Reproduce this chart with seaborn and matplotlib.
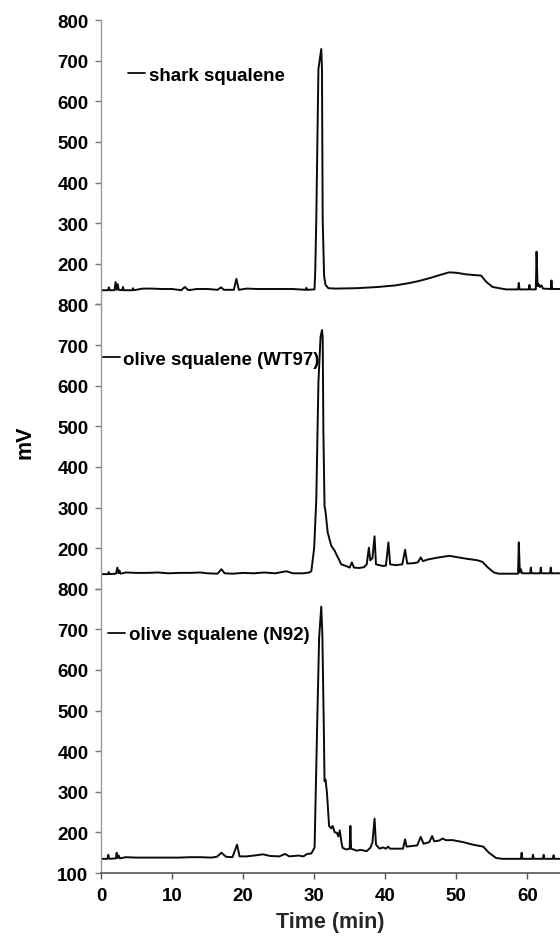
import numpy as np
import pandas as pd
import matplotlib
matplotlib.use("Agg")
import matplotlib.pyplot as plt
import seaborn as sns

# chromatogram traces (time in min, signal in mV)
shark_t = [0, 1.0, 1.1, 1.2, 1.9, 2.05, 2.2, 2.35, 2.5, 3.0, 3.1, 3.2, 4.4, 4.5, 4.6,
           5.9, 7.2, 8.5, 10.0, 11.3, 11.8, 12.3, 13.5, 15.0, 16.4, 16.9, 17.3,
           18.7, 19.05, 19.4, 20.5, 22.0, 25.0, 27.0, 28.8, 28.9, 29.0, 30.05,
           30.15, 30.3, 30.6, 31.0, 31.1, 31.2, 31.4, 31.6, 32.0, 33.0, 36.0,
           39.0, 41.5, 43.5, 44.8, 46.5, 47.6, 49.0, 50.0, 51.4, 53.5, 54.2,
           55.1, 57.0, 58.7, 58.8, 58.9, 60.2, 60.3, 60.4, 61.2, 61.3, 61.45,
           61.6, 61.75, 62.0, 62.2, 63.3, 63.4, 63.5, 64.6]
shark_mv = [135, 135, 142, 135, 135, 155, 136, 150, 136, 135, 143, 135, 135, 140, 135,
            139, 139, 138, 138, 135, 143, 135, 138, 138, 136, 142, 136,
            136, 163, 136, 139, 138, 138, 138, 136, 141, 136, 137,
            180, 310, 680, 729, 680, 310, 170, 148, 140, 139, 140,
            143, 147, 153, 158, 166, 172, 179, 178, 174, 171, 156,
            143, 137, 137, 153, 137, 137, 148, 137, 137, 230, 145,
            150, 143, 147, 139, 138, 159, 138, 138]

wt97_t = [0, 1.0, 1.1, 1.2, 2.1, 2.3, 2.45, 2.6, 2.75, 3.5, 5.0, 6.5, 8.0, 9.5, 11.0,
          12.5, 14.0, 15.0, 16.4, 16.95, 17.4, 18.5, 20.0, 21.5, 23.0, 24.5, 26.1,
          27.0, 28.5, 29.3, 29.6, 30.0, 30.3, 30.6, 30.9, 31.1, 31.2, 31.3, 31.46,
          31.6, 31.9, 32.4, 32.9, 33.3, 33.5, 33.8, 34.5, 35.0, 35.3, 35.6, 36.3,
          37.0, 37.4, 37.7, 37.9, 38.2, 38.5, 38.7, 39.2, 39.7, 40.1, 40.45, 40.7,
          41.5, 42.4, 42.8, 43.1, 44.0, 44.6, 45.0, 45.3, 46.0, 46.9, 47.5, 49.0,
          51.4, 53.0, 53.7, 54.4, 55.3, 56.0, 58.7, 58.8, 58.95, 59.1, 59.25,
          60.4, 60.5, 60.6, 61.8, 61.9, 62.0, 63.2, 63.3, 63.4, 64.6]
wt97_mv = [136, 136, 141, 136, 137, 152, 138, 145, 137, 140, 139, 139, 140, 138, 139,
           139, 140, 138, 137, 148, 138, 137, 139, 138, 140, 138, 143,
           138, 138, 140, 143, 200, 320, 608, 720, 737, 720, 485, 304,
           290, 239, 206, 193, 178, 172, 160, 156, 152, 165, 152, 151,
           153, 160, 201, 170, 175, 229, 160, 158, 156, 157, 214, 160,
           158, 160, 196, 162, 163, 165, 177, 168, 172, 175, 177, 181,
           174, 170, 166, 153, 140, 137, 137, 214, 140, 148, 138,
           138, 152, 138, 138, 152, 138, 138, 152, 138, 138]

n92_t = [0, 0.9, 1.03, 1.15, 2.1, 2.2, 2.35, 2.5, 2.65, 3.5, 5.0, 6.5, 8.0, 9.5, 11.0,
         12.5, 14.0, 15.5, 16.3, 16.95, 17.6, 18.5, 19.15, 19.5, 20.5, 21.5, 22.8,
         23.8, 25.1, 25.9, 26.5, 27.8, 28.5, 29.0, 29.6, 30.06, 30.4, 30.7, 31.0,
         31.15, 31.37, 31.46, 31.6, 31.8, 32.1, 32.4, 32.6, 32.9, 33.2, 33.4, 33.6,
         33.8, 34.0, 34.5, 35.0, 35.1, 35.2, 36.0, 36.5, 37.4, 37.9, 38.2, 38.5,
         38.7, 39.2, 39.7, 40.1, 40.4, 40.7, 42.5, 42.8, 43.0, 44.5, 45.0, 45.4,
         46.2, 46.6, 46.9, 47.6, 48.1, 48.5, 49.5, 51.0, 52.3, 53.8, 54.6, 55.6,
         56.5, 59.1, 59.2, 59.3, 60.7, 60.8, 60.9, 62.2, 62.3, 62.4, 63.6, 63.7,
         63.8, 64.6]
n92_mv = [135, 135, 145, 135, 136, 150, 137, 143, 136, 139, 138, 138, 138, 138, 138,
          139, 139, 138, 140, 150, 140, 139, 170, 141, 141, 143, 146,
          142, 141, 147, 141, 143, 141, 147, 148, 163, 445, 680, 756,
          690, 445, 326, 330, 298, 216, 210, 216, 200, 199, 190, 205,
          180, 162, 158, 160, 216, 160, 155, 157, 154, 162, 175, 234,
          170, 160, 163, 160, 165, 160, 160, 183, 165, 168, 189, 172,
          176, 191, 178, 180, 185, 181, 181, 176, 170, 165, 150, 137,
          135, 135, 150, 135, 135, 145, 135, 135, 145, 135, 135, 144,
          135, 135]

labels = ["shark squalene", "olive squalene (WT97)", "olive squalene (N92)"]
x_ticks = [0, 10, 20, 30, 40, 50, 60]
y_ticks = [100, 200, 300, 400, 500, 600, 700, 800]

sns.set_theme(style="ticks")
plt.rcParams['font.family'] = ['Liberation Sans', 'DejaVu Sans']
plt.rcParams['font.weight'] = 'bold'
plt.rcParams['text.color'] = 'black'
plt.rcParams['xtick.labelcolor'] = 'black'
plt.rcParams['ytick.labelcolor'] = 'black'

fig = plt.figure(figsize=(5.6, 9.37), dpi=100)
left, width = 101 / 560, 459 / 560
h = 284.3 / 937
bottoms = [0.0672 + 2 * h, 0.0672 + h, 0.0672]
traces = [(shark_t, shark_mv), (wt97_t, wt97_mv), (n92_t, n92_mv)]
leg_pos = [(0.059, 0.807), (0.004, 0.807), (0.015, 0.838)]

for i, ((t, mv), lab) in enumerate(zip(traces, labels)):
    ax = fig.add_axes([left, bottoms[i], width, h])
    ax.patch.set_alpha(0)
    df = pd.DataFrame({"time": t, "mV": mv})
    sns.lineplot(data=df, x="time", y="mV", ax=ax, color="#0a0a0a", lw=1.4,
                 estimator=None, label=lab)
    ax.set_xlim(0, 64.6)
    ax.set_ylim(100, 800)
    ax.set_yticks(y_ticks)
    labs = [str(v) for v in y_ticks]
    if i < 2:
        labs[0] = ""
    ax.set_yticklabels(labs)
    ax.set_xlabel("")
    ax.set_ylabel("")
    for s in ["top", "right"]:
        ax.spines[s].set_visible(False)
    ax.spines["left"].set_color("#9a9a9a")
    ax.spines["left"].set_linewidth(1.0)
    ax.tick_params(axis="y", length=4, width=1, color="#777777", labelsize=13.5, pad=5)
    if i < 2:
        ax.spines["bottom"].set_visible(False)
        ax.set_xticks([])
    else:
        ax.spines["bottom"].set_color("#555555")
        ax.spines["bottom"].set_linewidth(1.2)
        ax.set_xticks(x_ticks)
        ax.tick_params(axis="x", length=4, width=1, color="#555555", labelsize=13.5, pad=6)
        ax.set_xlabel("Time (min)", fontsize=15.5, fontweight="bold", labelpad=5)
    for lbl in ax.get_xticklabels() + ax.get_yticklabels():
        lbl.set_fontweight("bold")
    leg = ax.legend(loc="center left", bbox_to_anchor=leg_pos[i], frameon=False,
                    handlelength=0.9, handletextpad=0.2, borderaxespad=0, borderpad=0,
                    prop={"size": 13.5, "weight": "bold"})
    for ln in leg.get_lines():
        ln.set_linewidth(1.3)

fig.text(25 / 560, 1 - 442 / 937, "mV", rotation=90, ha="center", va="center",
         fontsize=15.5, fontweight="bold")

fig.savefig("out.png", dpi=100)
